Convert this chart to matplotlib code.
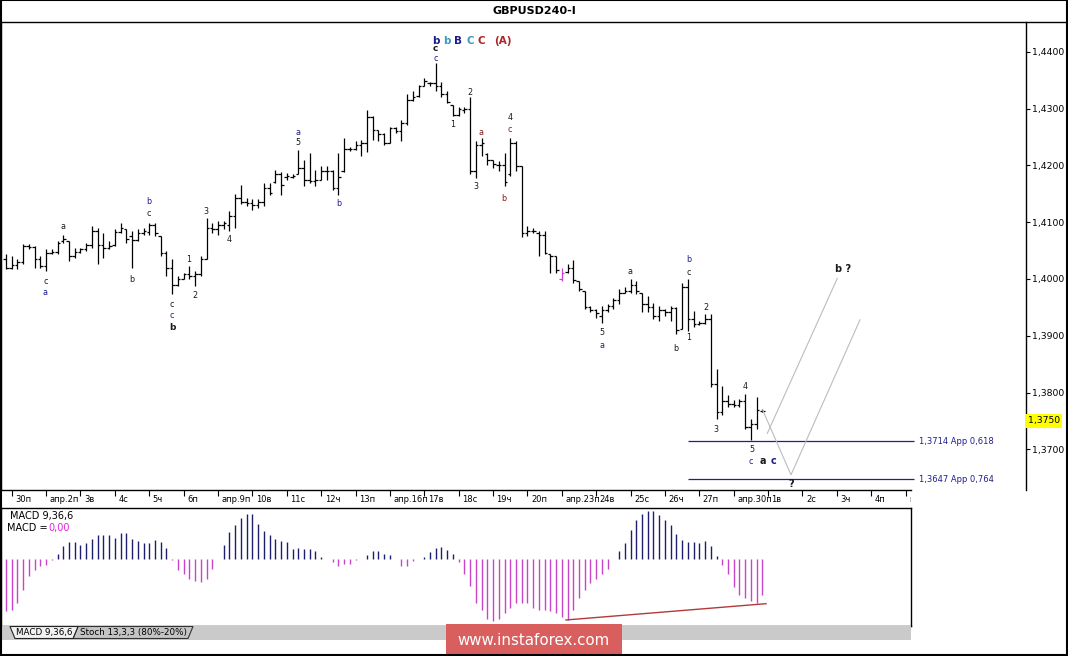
import numpy as np
import matplotlib
matplotlib.use('Agg')
import matplotlib.pyplot as plt
import matplotlib.transforms as mtransforms
from matplotlib.patches import Rectangle, Polygon
from matplotlib.lines import Line2D

W, H = 1068, 656

day_labels = ['30п', 'апр.2п', '3в', '4с', '5ч', '6п', 'апр.9п', '10в', '11с', '12ч', '13п',
              'апр.16п', '17в', '18с', '19ч', '20п', 'апр.23п', '24в', '25с', '26ч', '27п',
              'апр.30п', '1в', '2с', '3ч', '4п', 'май.7п']

opens = [1.4035, 1.4020, 1.4025, 1.4030, 1.4058, 1.4056, 1.4035, 1.4022, 1.4045, 1.4048,
         1.4066, 1.4066, 1.4040, 1.4048, 1.4052, 1.4060, 1.4085, 1.4060, 1.4055, 1.4060,
         1.4082, 1.4087, 1.4075, 1.4068, 1.4080, 1.4082, 1.4095, 1.4075, 1.4045, 1.4020,
         1.3990, 1.4000, 1.4008, 1.4005, 1.4008, 1.4035, 1.4090, 1.4088, 1.4095, 1.4095,
         1.4110, 1.4142, 1.4135, 1.4133, 1.4130, 1.4135, 1.4160, 1.4170, 1.4185, 1.4180,
         1.4180, 1.4184, 1.4195, 1.4175, 1.4172, 1.4175, 1.4190, 1.4190, 1.4160, 1.4190,
         1.4228, 1.4228, 1.4235, 1.4240, 1.4285, 1.4262, 1.4255, 1.4240, 1.4265, 1.4260,
         1.4275, 1.4315, 1.4322, 1.4340, 1.4345, 1.4345, 1.4340, 1.4325, 1.4306, 1.4288,
         1.4298, 1.4300, 1.4190, 1.4235, 1.4220, 1.4210, 1.4200, 1.4200, 1.4185, 1.4240,
         1.4198, 1.4080, 1.4085, 1.4080, 1.4078, 1.4043, 1.4040, 1.4000, 1.4012, 1.4020,
         1.3996, 1.3979, 1.3950, 1.3945, 1.3935, 1.3945, 1.3952, 1.3962, 1.3976, 1.3978,
         1.3990, 1.3976, 1.3955, 1.3950, 1.3935, 1.3945, 1.3942, 1.3948, 1.3912, 1.3985,
         1.3930, 1.3920, 1.3922, 1.3930, 1.3815, 1.3765, 1.3785, 1.3780, 1.3778, 1.3785,
         1.3740, 1.3745, 1.3768]

highs = [1.4043, 1.4040, 1.4035, 1.4061, 1.4061, 1.4058, 1.4040, 1.4052, 1.4052, 1.4067,
         1.4078, 1.4067, 1.4055, 1.4055, 1.4064, 1.4093, 1.4090, 1.4081, 1.4067, 1.4087,
         1.4099, 1.4087, 1.4084, 1.4087, 1.4090, 1.4099, 1.4099, 1.4075, 1.4049, 1.4035,
         1.4005, 1.4011, 1.4023, 1.4014, 1.4040, 1.4108, 1.4099, 1.4102, 1.4102, 1.4119,
         1.4149, 1.4166, 1.4143, 1.4140, 1.4140, 1.4169, 1.4169, 1.4192, 1.4189, 1.4186,
         1.4184, 1.4227, 1.4210, 1.4222, 1.4192, 1.4198, 1.4198, 1.4192, 1.4222, 1.4248,
         1.4233, 1.4242, 1.4245, 1.4297, 1.4286, 1.4262, 1.4256, 1.4268, 1.4268, 1.4280,
         1.4325, 1.4331, 1.4342, 1.4353, 1.4347, 1.4380, 1.4347, 1.4331, 1.4306, 1.4303,
         1.4303, 1.4321, 1.4243, 1.4248, 1.4222, 1.4210, 1.4207, 1.4222, 1.4248, 1.4242,
         1.4198, 1.4093, 1.4090, 1.4084, 1.4084, 1.4043, 1.4040, 1.4020, 1.4026, 1.4034,
         1.3996, 1.3979, 1.3953, 1.3947, 1.3953, 1.3956, 1.3967, 1.3982, 1.3985, 1.3999,
         1.3996, 1.3976, 1.3970, 1.3958, 1.3953, 1.3947, 1.3953, 1.3950, 1.3993, 1.3999,
         1.3944, 1.3926, 1.3938, 1.3938, 1.3841, 1.3812, 1.3795, 1.3786, 1.3789, 1.3798,
         1.3754, 1.3792, 1.3771]

lows = [1.4017, 1.4017, 1.4017, 1.4026, 1.4052, 1.4020, 1.4020, 1.4014, 1.4043, 1.4043,
        1.4064, 1.4032, 1.4037, 1.4046, 1.4049, 1.4055, 1.4026, 1.4037, 1.4052, 1.4058,
        1.4081, 1.4064, 1.4020, 1.4067, 1.4078, 1.4078, 1.4075, 1.4040, 1.4005, 1.3973,
        1.3988, 1.3999, 1.3999, 1.3988, 1.4005, 1.4035, 1.4081, 1.4078, 1.4087, 1.4084,
        1.4090, 1.4131, 1.4128, 1.4122, 1.4125, 1.4128, 1.4148, 1.4169, 1.4148, 1.4175,
        1.4178, 1.4184, 1.4163, 1.4169, 1.4163, 1.4175, 1.4175, 1.4157, 1.4148, 1.4189,
        1.4225, 1.4227, 1.4216, 1.4224, 1.4245, 1.4242, 1.4236, 1.4239, 1.4256, 1.4242,
        1.4271, 1.4313, 1.4321, 1.4339, 1.4339, 1.4331, 1.4321, 1.4309, 1.4286, 1.4286,
        1.4292, 1.4184, 1.4178, 1.4216, 1.4201, 1.4195, 1.4190, 1.4163, 1.4181, 1.4190,
        1.4073, 1.4076, 1.4081, 1.4040, 1.4043, 1.4011, 1.4011, 1.3996, 1.4011, 1.3993,
        1.3979, 1.3947, 1.3941, 1.3932, 1.3923, 1.3941, 1.3947, 1.3956, 1.3976, 1.3976,
        1.3973, 1.3941, 1.3941, 1.3929, 1.3926, 1.3935, 1.3926, 1.3903, 1.3912, 1.3909,
        1.3915, 1.3918, 1.3921, 1.3809, 1.3754, 1.3760, 1.3774, 1.3774, 1.3774, 1.3736,
        1.3716, 1.3736, 1.3765]

closes = [1.4020, 1.4025, 1.4030, 1.4058, 1.4056, 1.4035, 1.4022, 1.4045, 1.4048, 1.4064,
          1.4070, 1.4040, 1.4048, 1.4052, 1.4060, 1.4085, 1.4060, 1.4055, 1.4058, 1.4082,
          1.4090, 1.4070, 1.4068, 1.4080, 1.4085, 1.4095, 1.4080, 1.4045, 1.4020, 1.3990,
          1.4000, 1.4008, 1.4005, 1.4008, 1.4035, 1.4090, 1.4088, 1.4095, 1.4098, 1.4110,
          1.4142, 1.4135, 1.4133, 1.4130, 1.4135, 1.4160, 1.4152, 1.4185, 1.4165, 1.4182,
          1.4182, 1.4195, 1.4175, 1.4172, 1.4175, 1.4190, 1.4190, 1.4160, 1.4180, 1.4228,
          1.4228, 1.4235, 1.4240, 1.4285, 1.4262, 1.4255, 1.4240, 1.4265, 1.4260, 1.4275,
          1.4315, 1.4320, 1.4340, 1.4348, 1.4345, 1.4340, 1.4325, 1.4312, 1.4288, 1.4300,
          1.4300, 1.4190, 1.4235, 1.4240, 1.4210, 1.4203, 1.4200, 1.4170, 1.4240, 1.4198,
          1.4080, 1.4085, 1.4085, 1.4078, 1.4045, 1.4040, 1.4015, 1.4010, 1.4020, 1.3998,
          1.3982, 1.3950, 1.3945, 1.3940, 1.3945, 1.3952, 1.3962, 1.3975, 1.3978, 1.3990,
          1.3978, 1.3955, 1.3950, 1.3935, 1.3945, 1.3942, 1.3948, 1.3910, 1.3985, 1.3930,
          1.3920, 1.3922, 1.3930, 1.3815, 1.3765, 1.3785, 1.3780, 1.3778, 1.3785, 1.3740,
          1.3745, 1.3770, 1.3768]

macd_hist = [-54, -52, -45, -32, -17, -11, -7.6, -6, -0.5, 5.5,
             14, 18, 18, 15, 16.5, 21, 25, 25, 25, 22,
             27, 27, 21, 19, 17, 17, 20, 18, 11, -1.4,
             -11, -15.5, -21, -23, -24, -21, -10, 0.3, 15, 27.5,
             35.5, 42, 47, 46, 36.5, 28.6, 25, 20.7, 19, 18,
             10.7, 11.4, 10.7, 10.7, 8, 2, 0.3, -3.4, -7.6, -5,
             -5, -0.7, 0.3, 4.5, 8.6, 8, 5.5, 4.5, 0.3, -7,
             -7, -1.7, 0.3, 2, 7, 11.4, 12, 9.6, 5.5, -3.4,
             -15, -28, -45, -52, -62, -64, -62, -56, -50, -45,
             -45, -45, -50, -52, -53, -54, -56, -60, -62.5, -53,
             -40, -31.6, -24.7, -20.6, -15, -10.3, 0.3, 8, 16.5, 29.5,
             40, 46.7, 49.8, 49.8, 45.6, 40.5, 35.3, 26, 20, 18,
             17.5, 17, 19, 14, 3.4, -5.8, -15.4, -28.8, -36.7, -40,
             -43.6, -45.3, -36.7]

price_ticks = [1.37, 1.38, 1.39, 1.40, 1.41, 1.42, 1.43, 1.44]
last_price = 1.3750

fib_levels = [1.3714, 1.3647]
fib_labels = ['1,3714 App 0,618', '1,3647 App 0,764']
fib_start, fib_end = 119.0, 158.5

# forecast path (bar index, price)
path1_x = [132.06, 137.0, 149.04]
path1_y = [1.3769, 1.3655, 1.3928]
path2_x = [132.86, 145.08]
path2_y = [1.3728, 1.4001]

macd_trend_x = [97.73, 132.64]
macd_trend_y = [-62.8, -46.0]

NAVY = '#1c1c8a'
DARK = '#1a1a1a'
MAROON = '#7a1e1e'
TEAL = '#3a9cc0'
RED = '#b02525'

# (text, bar index, price, colour)
small_labels = [
    ('c', 6.89, 1.39963, DARK), ('a', 6.89, 1.39752, NAVY),
    ('a', 9.95, 1.40914, DARK), ('b', 21.99, 1.39998, DARK),
    ('b', 24.96, 1.41371, NAVY), ('c', 24.96, 1.41160, DARK),
    ('c', 28.97, 1.39558, DARK), ('c', 28.97, 1.39347, NAVY),
    ('1', 31.94, 1.40350, DARK), ('2', 32.98, 1.39699, DARK),
    ('3', 34.90, 1.41195, DARK), ('4', 38.92, 1.40702, DARK),
    ('a', 50.96, 1.42569, NAVY), ('5', 50.96, 1.42393, DARK),
    ('b', 58.03, 1.41319, NAVY), ('c', 74.96, 1.43889, NAVY),
    ('1', 78.01, 1.42710, DARK), ('2', 80.98, 1.43273, DARK),
    ('3', 82.02, 1.41618, DARK), ('a', 82.98, 1.42569, MAROON),
    ('b', 86.91, 1.41424, MAROON), ('4', 87.96, 1.42850, DARK),
    ('c', 87.96, 1.42639, MAROON), ('5', 104.01, 1.39065, DARK),
    ('a', 104.01, 1.38836, NAVY), ('a', 108.90, 1.40139, DARK),
    ('b', 116.93, 1.38783, DARK), ('b', 119.11, 1.40333, NAVY),
    ('c', 119.11, 1.40104, DARK), ('1', 119.11, 1.38960, DARK),
    ('2', 122.08, 1.39505, DARK), ('3', 123.91, 1.37340, DARK),
    ('4', 128.97, 1.38097, DARK), ('5', 130.10, 1.36988, DARK),
    ('c', 130.02, 1.36794, NAVY),
]
bold_labels = [
    ('b', 28.97, 1.39136, DARK, 6.5), ('c', 74.96, 1.44048, DARK, 6.5),
    ('b', 74.96, 1.44188, NAVY, 7.5), ('b', 76.96, 1.44188, TEAL, 7.5),
    ('B', 78.88, 1.44188, NAVY, 7.5), ('C', 80.98, 1.44188, TEAL, 7.5),
    ('C', 82.90, 1.44188, RED, 7.5), ('(A)', 86.74, 1.44188, RED, 7.5),
    ('a', 132.11, 1.36794, DARK, 7), ('c', 134.03, 1.36794, NAVY, 7),
    ('b ?', 146.07, 1.40173, DARK, 7), ('?', 137.0, 1.36389, DARK, 7),
]


def box(x0, y0, x1, y1):
    return [x0 / W, 1 - y1 / H, (x1 - x0) / W, (y1 - y0) / H]


fig = plt.figure(figsize=(W / 100, H / 100), dpi=100)
fig.patch.set_facecolor('white')

ax = fig.add_axes(box(1, 22, 1026, 490))
ax_time = fig.add_axes(box(1, 490, 911, 508))
ax_macd = fig.add_axes(box(1, 508, 911, 625.5))
ax_tabs = fig.add_axes(box(1, 625.5, 911, 640))

px = 5.73
x = np.arange(len(highs))

# price bars
bar_colors = ['black'] * len(highs)
bar_colors[97] = '#d040d0'
ax.vlines(x, lows, highs, colors=bar_colors, lw=0.9)
ax.hlines(opens, x - 0.45, x, colors=bar_colors, lw=0.9)
ax.hlines(closes, x, x + 0.45, colors=bar_colors, lw=0.9)

ax.set_xlim(-5 / px, 1020 / px)
ax.set_ylim(1.44 - 438.3 / 5680, 1.44 + 29.7 / 5680)

for lvl, lab in zip(fib_levels, fib_labels):
    ax.hlines(lvl, fib_start, fib_end, color='#1f1f8f', lw=0.9)
    ax.text(fib_end + 0.9, lvl, lab, color='#1f1f8f', fontsize=6, va='center', ha='left')

ax.plot(path1_x, path1_y, color='#bcbcbc', lw=0.8)
ax.plot(path2_x, path2_y, color='#bcbcbc', lw=0.8)

for t, xi, yi, c in small_labels:
    ax.text(xi, yi, t, color=c, fontsize=5.8, ha='center', va='center')
for t, xi, yi, c, s in bold_labels:
    ax.text(xi, yi, t, color=c, fontsize=s, fontweight='bold', ha='center', va='center')

ax.yaxis.tick_right()
ax.set_yticks(price_ticks)
ax.set_yticklabels([f'{p:.4f}'.replace('.', ',') for p in price_ticks])
ax.tick_params(axis='y', direction='out', length=3, width=0.8, labelsize=6.7, pad=1.5)
ax.set_xticks([])
ax.spines['bottom'].set_visible(False)
ax.spines['top'].set_visible(False)
for s in ['left', 'right']:
    ax.spines[s].set_linewidth(1)

yt = mtransforms.blended_transform_factory(ax.transAxes, ax.transData)
ax.text(1.0015, last_price, f'{last_price:.4f}'.replace('.', ','), transform=yt,
        fontsize=6.7, va='center', ha='left',
        bbox=dict(facecolor='#ffff00', edgecolor='none', pad=1.6))

# time axis strip
day_pos = [1 + 6 * k for k in range(len(day_labels))]
ax_time.set_xlim(-5 / px, 905 / px)
ax_time.set_ylim(0, 1)
ax_time.set_xticks(day_pos)
ax_time.set_yticks([])
ax_time.tick_params(axis='x', top=True, bottom=False, direction='in', length=4,
                    width=0.8, labeltop=False, labelbottom=False)
for s in ['left', 'right', 'bottom']:
    ax_time.spines[s].set_visible(False)
ax_time.spines['top'].set_linewidth(1)
tt = mtransforms.blended_transform_factory(ax_time.transData, ax_time.transAxes)
tt = tt + mtransforms.ScaledTranslation(3.5 / 100, 0, fig.dpi_scale_trans)
for pos, lab in zip(day_pos, day_labels):
    ax_time.text(pos, 0.5, lab, transform=tt, fontsize=6, ha='left', va='center', clip_on=True)

# MACD panel
hist_colors = ['#1e1e6e' if v >= 0 else '#c844c8' for v in macd_hist]
ax_macd.vlines(x, 0, macd_hist, colors=hist_colors, lw=1.0)
ax_macd.plot(macd_trend_x, macd_trend_y, color='#b23a3a', lw=1)
ax_macd.set_xlim(-5 / px, 905 / px)
ax_macd.set_ylim(-68.5, 52.7)
ax_macd.set_xticks([])
ax_macd.set_yticks([])
for s in ax_macd.spines.values():
    s.set_linewidth(1)
ax_macd.text(0.0095, 0.932, 'MACD 9,36,6', transform=ax_macd.transAxes, fontsize=7,
             ha='left', va='center')
ax_macd.text(0.0065, 0.826, 'MACD =', transform=ax_macd.transAxes, fontsize=7,
             ha='left', va='center')
ax_macd.text(0.0525, 0.826, '0,00', transform=ax_macd.transAxes, fontsize=7,
             ha='left', va='center', color='#e020e0')

# tab strip
ax_tabs.set_xlim(0, 910)
ax_tabs.set_ylim(14.5, 0)
ax_tabs.axis('off')
ax_tabs.add_patch(Rectangle((0, 0), 910, 14.5, facecolor='#cacaca', edgecolor='none'))
ax_tabs.add_patch(Polygon([(72, 13), (77, 1), (192, 1), (187, 13)], closed=True,
                          facecolor='#c4c4c4', edgecolor='#333333', lw=0.8))
ax_tabs.add_patch(Polygon([(9, 1), (14, 13), (72, 13), (77, 1)], closed=True,
                          facecolor='#f2f2f2', edgecolor='#222222', lw=0.8))
ax_tabs.text(43, 7.5, 'MACD 9,36,6', fontsize=6.3, ha='center', va='center')
ax_tabs.text(133, 7.5, 'Stoch 13,3,3 (80%-20%)', fontsize=6.3, ha='center', va='center')

# watermark
fig.patches.append(Rectangle((446 / W, 1 - 654 / H), 176 / W, 30 / H, transform=fig.transFigure,
                             facecolor='#d95f5f', edgecolor='none', zorder=5))
fig.text(533 / W, 1 - 640.5 / H, 'www.instaforex.com', color='white', fontsize=10.8,
         ha='center', va='center', zorder=6)

# title and frame
fig.text(534 / W, 1 - 11 / H, 'GBPUSD240-I', fontsize=8, fontweight='bold', ha='center', va='center')
fig.add_artist(Line2D([0, 1], [1 - 22 / H, 1 - 22 / H], color='black', lw=1,
                      transform=fig.transFigure))
fig.patches.append(Rectangle((0.0005, 0.0008), 0.999, 0.9985, transform=fig.transFigure,
                             fill=False, edgecolor='black', lw=1.5, zorder=10))

fig.savefig('out.png', dpi=100)
